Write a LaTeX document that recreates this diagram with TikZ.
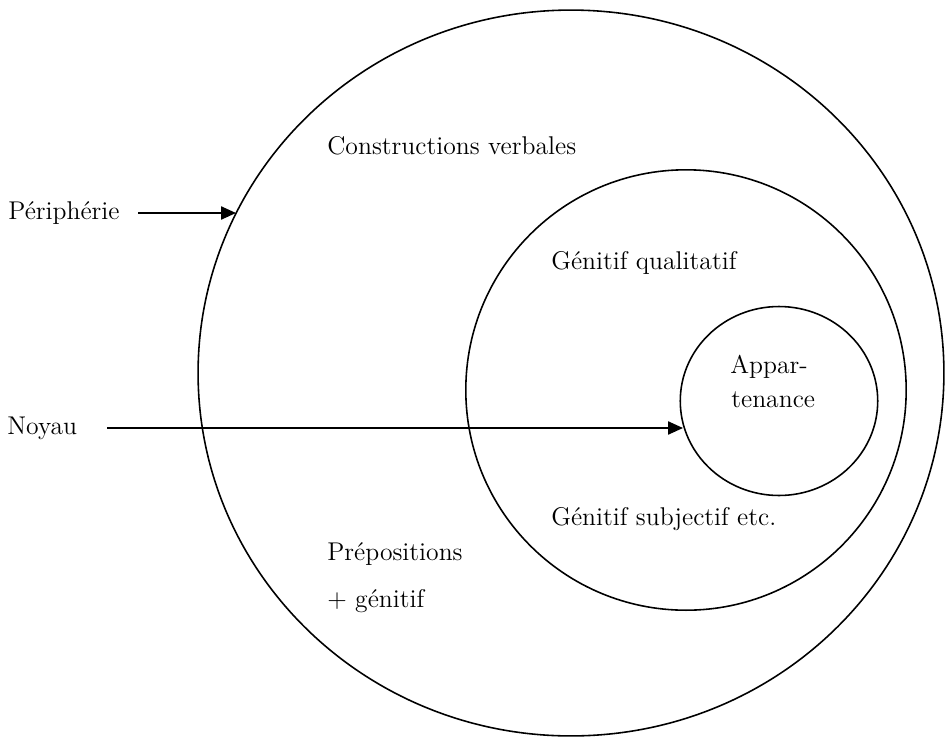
\documentclass[tikz,border=0pt]{standalone}
\usepackage{fontspec}
\usetikzlibrary{positioning,arrows.meta,shapes.geometric}
\tikzset{
  ring/.style ={ellipse,draw=black,line width=.9pt,inner sep=0pt},
  lbl/.style  ={font=\fontsize{14.6}{19.4}\selectfont,inner sep=0pt,anchor=base west},
  side/.style ={lbl,anchor=west},
  ar/.style   ={-{Triangle[length=8.5pt,width=7.5pt]},line width=.9pt},
}

\begin{document}
\begin{tikzpicture}[x=0.02cm,y=-0.02cm]
\useasboundingbox (0,0) rectangle (948,738);

% ---- the three rings -----------------------------------------------------
\node[ring,minimum width=14.92cm,minimum height=14.52cm] (outer) at (571,373) {};
\node[ring,minimum width=8.81cm,minimum height=8.81cm] (mid) at (686,390) {};
\node[ring,minimum width=3.95cm,minimum height=3.78cm] (core) at (779,401) {};

% ---- what sits in each ring ----------------------------------------------
\node[lbl] (cv)   at (327,154) {Constructions verbales};
\node[lbl] (gq)   at (551,269) {Génitif qualitatif};
\node[lbl] (gs)   at (551,525) {Génitif subjectif etc.};
\node[lbl] (prep) at (327,560) {Prépositions};
\node[lbl] (gen)  at (327,607) {+ génitif};
\node[lbl] (app)  at (730,373) {Appar-};
\node[lbl] (ten)  at (731,407) {tenance};

% ---- side labels and their arrows ----------------------------------------
\node[side] (peri)  at (8,213) {Périphérie};
\node[side] (noyau) at (7,428) {Noyau};
\coordinate (phit) at (236,213);
\coordinate (nhit) at (683,428);
\draw[ar] (peri.east) ++(0.37cm,0) -- (phit);
\draw[ar] (noyau.east) ++(0.6cm,0) -- (nhit);
\end{tikzpicture}
\end{document}
